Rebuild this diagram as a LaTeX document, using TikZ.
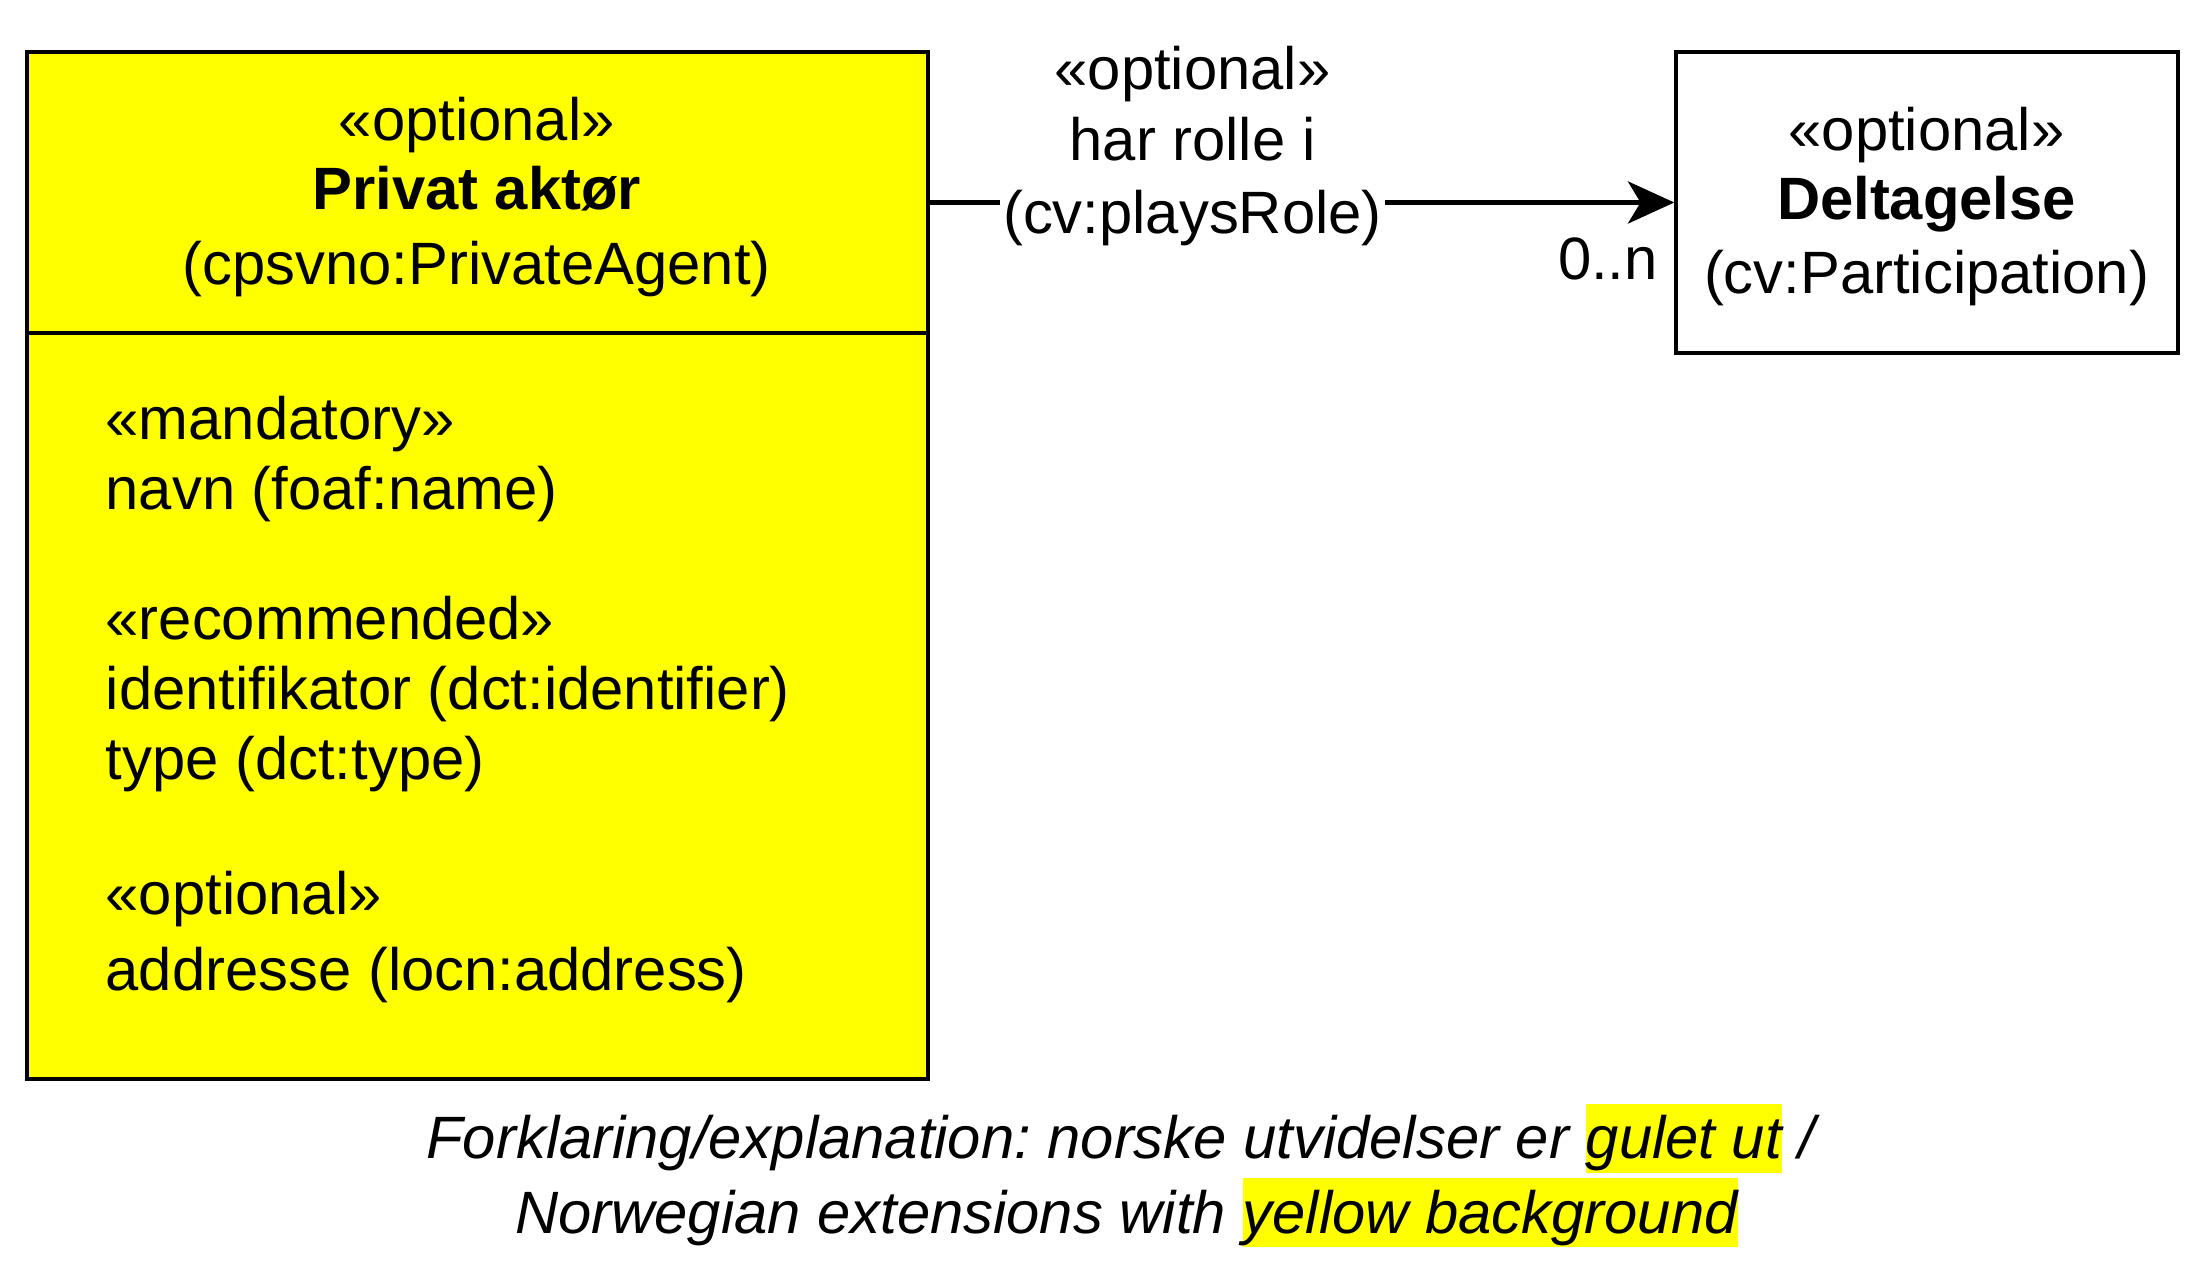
\documentclass[tikz,border=0pt]{standalone}
\usepackage{fontspec}
\setmainfont{Liberation Sans}
\usetikzlibrary{arrows.meta}
\definecolor{hlyellow}{RGB}{255,255,0}
\newcommand{\hlbox}[1]{{\setlength{\fboxsep}{0pt}\colorbox{hlyellow}{\rule[-0.235em]{0pt}{1.155em}#1}}}
\frenchspacing
\begin{document}
\begin{tikzpicture}[x=1pt,y=-1pt,
  every node/.style={font=\fontsize{42.5}{50}\selectfont, inner sep=0pt},
  umlbox/.style={draw=black, line width=2.8pt, rectangle, inner sep=0pt},
  ctext/.style={anchor=base},
  ltext/.style={anchor=base west},
  conn/.style={line width=3pt, -{Stealth[length=33pt,width=30pt,inset=9pt]}}]
\useasboundingbox (0,0) rectangle (1568,906.7);
% boxes
\node[umlbox, fill=hlyellow, minimum width=641pt, minimum height=730pt] (pa) at (339.5,402) {};
\node[umlbox, fill=white, minimum width=357pt, minimum height=214pt] (dg) at (1370.5,144) {};
\coordinate (divl) at (19,237);
\coordinate (divr) at (660,237);
\draw[line width=2.8pt] (divl) -- (divr);
% connector
\draw[conn] (pa.east |- dg.west) -- (dg.west);
% left header
\node[ctext] (pa1) at (339,100) {«optional»};
\node[ctext] (pa2) at (339,149) {\bfseries Privat aktør};
\node[ctext] (pa3) at (339,202) {(cpsvno:PrivateAgent)};
% left body
\node[ltext] (b1) at (75,312.5) {«mandatory»};
\node[ltext] (b2) at (75,362.5) {navn (foaf:name)};
\node[ltext] (b3) at (75,454.5) {«recommended»};
\node[ltext] (b4) at (75,504.5) {identifikator (dct:identifier)};
\node[ltext] (b5) at (75,554.5) {type (dct:type)};
\node[ltext] (b6) at (75,650.5) {«optional»};
\node[ltext] (b7) at (75,704) {addresse (locn:address)};
% right box
\node[ctext] (dg1) at (1370,107) {«optional»};
\node[ctext] (dg2) at (1370,156) {\bfseries Deltagelse};
\node[ctext] (dg3) at (1370,209) {(cv:Participation)};
% connector label
\node[ctext] (l1) at (848,64) {«optional»};
\node[ctext] (l2) at (848,114) {har rolle i};
\node[ctext, fill=white, inner xsep=2pt] (l3) at (848,166) {(cv:playsRole)};
\node[anchor=base east] (mult) at (1179,199) {0..n};
% caption
\node[ctext] (c1) at (797,824) {\itshape Forklaring/explanation: norske utvidelser er \hlbox{gulet ut} /};
\node[ctext] (c2) at (801,877) {\itshape Norwegian extensions with \hlbox{yellow background}};
\end{tikzpicture}
\end{document}
